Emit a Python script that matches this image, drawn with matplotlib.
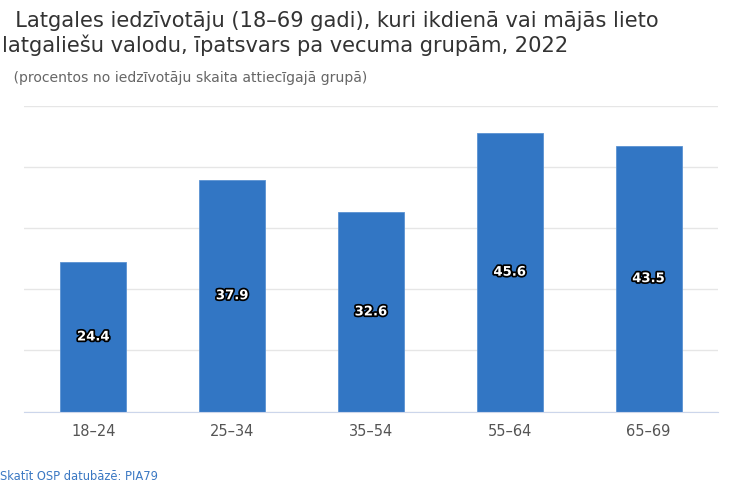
import matplotlib.pyplot as plt
import matplotlib.patheffects as pe

groups = ['18–24', '25–34', '35–54', '55–64', '65–69']
shares = [24.4, 37.9, 32.6, 45.6, 43.5]

fig = plt.figure(figsize=(7.3, 4.87), dpi=100)
ax = fig.add_axes([24/730, 1-411.5/487, 694/730, 305.5/487])

x = range(len(groups))
bars = ax.bar(x, shares, width=0.475, color='#3276c4', edgecolor='#5a92d2', linewidth=0.6, zorder=2)
for b, v in zip(bars, shares):
    ax.text(b.get_x() + b.get_width()/2, v/2, f'{v:.1f}', ha='center', va='center',
            color='white', fontsize=9.5, fontweight='bold', zorder=3,
            path_effects=[pe.withStroke(linewidth=2.5, foreground='black')])

ax.set_xlim(-0.5, len(groups) - 0.5)
ax.set_ylim(0, 50)
ax.set_yticks([0, 10, 20, 30, 40, 50])
ax.set_yticklabels([])
ax.tick_params(axis='y', length=0)
ax.grid(axis='y', color='#e6e6e6', linewidth=1, zorder=0)
ax.set_xticks(list(x))
ax.set_xticklabels(groups, fontsize=10.5, color='#555555')
ax.tick_params(axis='x', length=0, pad=9)
for s in ['top', 'right', 'left']:
    ax.spines[s].set_visible(False)
ax.spines['bottom'].set_color('#ccd6eb')

fig.text(2/730, 1-33.5/487, '  Latgales iedzīvotāju (18–69 gadi), kuri ikdienā vai mājās lieto\n'
         'latgaliešu valodu, īpatsvars pa vecuma grupām, 2022',
         fontsize=15.1, color='#333333', ha='left', va='center', linespacing=1.25)
fig.text(9/730, 1-78/487, ' (procentos no iedzīvotāju skaita attiecīgajā grupā)',
         fontsize=10.1, color='#666666', ha='left', va='center')
fig.text(0, 1-476/487, 'Skatīt OSP datubāzē: PIA79', fontsize=8.3, color='#3a78c3',
         ha='left', va='center')

fig.savefig('out.png', dpi=100)
